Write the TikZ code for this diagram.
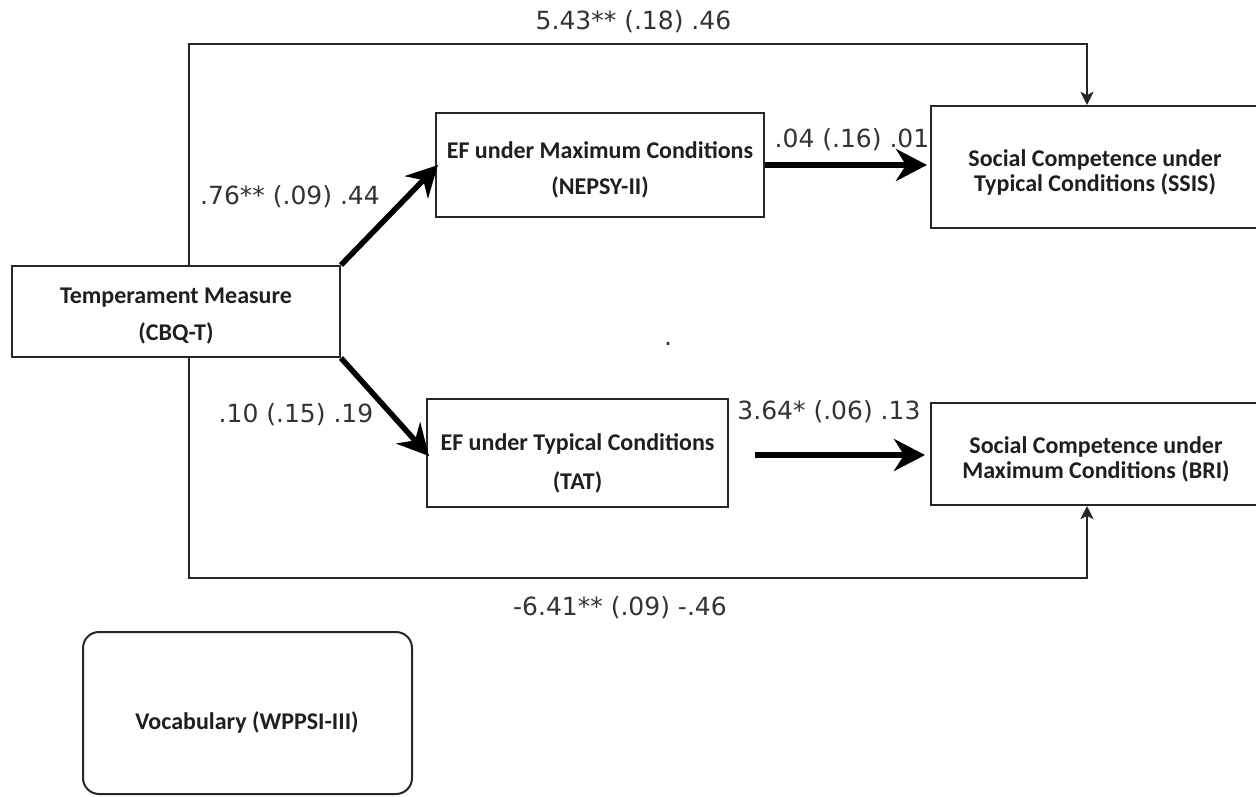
\documentclass[tikz,border=0pt]{standalone}
\usepackage{fontspec}
\setmainfont{Carlito}
\newfontfamily\labfont{DejaVu Sans}
\usetikzlibrary{arrows.meta}
\begin{document}
\begin{tikzpicture}[x=1pt,y=-1pt,
  box/.style={draw=black!85, line width=2pt, inner sep=0pt},
  boxtext/.style={font=\fontsize{24}{25}\selectfont\bfseries, text=black!88, align=center, inner sep=0pt},
  lab/.style={font=\labfont\fontsize{25}{30}\selectfont, text=black!80, inner sep=0pt},
  thinarrow/.style={draw=black!85, line width=2.5pt, -{Stealth[length=13pt,width=13pt,inset=3pt]}},
  boldarrow/.style={draw=black, line width=5.5pt, -{Stealth[length=31pt,width=32pt,inset=10pt]}}]
\clip (0,0) rectangle (1256,796);
\fill[white] (0,0) rectangle (1256,796);

% boxes
\node[box, minimum width=328pt, minimum height=91pt] (temp) at (176,311.5) {};
\node[boxtext] (temptext) at (176,316) {Temperament Measure\\[12pt](CBQ-T)};

\node[box, minimum width=328pt, minimum height=104pt] (efmax) at (600,165) {};
\node[boxtext] (efmaxtext) at (600,170) {EF under Maximum Conditions\\[11pt](NEPSY-II)};

\node[box, minimum width=331pt, minimum height=122pt] (ssis) at (1096.5,167) {};
\node[boxtext] (ssistext) at (1095,172.5) {Social Competence under\\Typical Conditions (SSIS)};

\node[box, minimum width=331pt, minimum height=102pt] (bri) at (1096.5,454) {};
\node[boxtext] (britext) at (1096,459) {Social Competence under\\Maximum Conditions (BRI)};

\node[box, minimum width=301pt, minimum height=108pt] (eftyp) at (577.5,453) {};
\node[boxtext] (eftyptext) at (577.5,463.5) {EF under Typical Conditions\\[14pt](TAT)};

\node[box, rounded corners=16pt, minimum width=329pt, minimum height=162pt] (vocab) at (247.5,713) {};
\node[boxtext] (vocabtext) at (247,722) {Vocabulary (WPPSI-III)};

% thin connectors
\coordinate (tl) at (189,44);
\coordinate (tr) at (1087,44);
\coordinate (bl) at (189,578);
\coordinate (br) at (1087,578);
\draw[thinarrow] (temp.north -| tl) -- (tl) -- (tr) -- (ssis.north -| tr);
\draw[thinarrow] (temp.south -| bl) -- (bl) -- (br) -- (bri.south -| br);

% bold arrows
\draw[boldarrow] (temp.north east) -- ([xshift=3pt]efmax.west);
\draw[boldarrow] (temp.south east) -- ([xshift=3pt,yshift=-3pt]eftyp.west);
\draw[boldarrow] (efmax.east) -- ([xshift=-3pt]ssis.west |- efmax.east);
\coordinate (a2start) at (755,455);
\draw[boldarrow] (a2start) -- ([xshift=-5pt]bri.west |- a2start);

% labels
\node[lab] (l1) at (633.5,22) {5.43** (.18) .46};
\node[lab] (l2) at (290,197) {.76** (.09) .44};
\node[lab] (l3) at (852,140) {.04 (.16) .01};
\node[lab] (l4) at (296,415) {.10 (.15) .19};
\node[lab] (l5) at (829,412) {3.64* (.06) .13};
\node[lab] (l6) at (620,608) {-6.41** (.09) -.46};
\node[lab] (dot) at (668,344) {.};
\end{tikzpicture}
\end{document}
